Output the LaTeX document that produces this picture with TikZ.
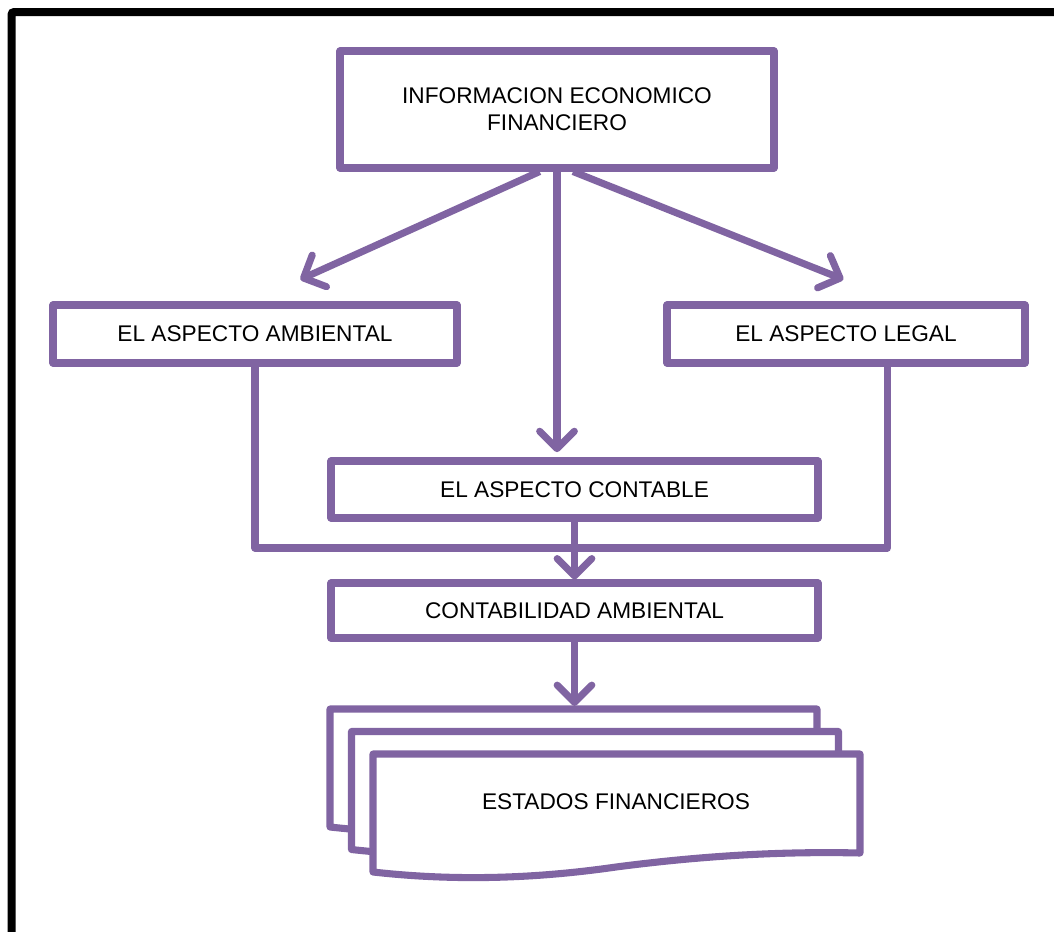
\documentclass[tikz,border=0pt]{standalone}
\usepackage{fontspec}
\setmainfont{Liberation Sans}
\usetikzlibrary{arrows.meta}
\definecolor{lila}{RGB}{128,100,162}
\tikzset{
  caja/.style={draw=lila, line width=5.3pt, fill=white, line join=round, align=center, font=\fontsize{17}{20.5}\selectfont},
  linea/.style={draw=lila, line width=5.3pt, line join=round},
  flecha/.style={linea, -{Straight Barb[length=13pt,width=26pt,line cap=round,line join=round]}},
  hoja/.style={draw=lila, line width=5.3pt, fill=white, line join=round}
}

\begin{document}
\begin{tikzpicture}[x=0.75pt,y=-0.75pt]
\useasboundingbox (0,0) rectangle (1054,932);
\clip (0,0) rectangle (1054,932);
\draw[line width=6pt, rounded corners=2pt] (11.5,12) rectangle (1080,960);

\node[caja, minimum width=325.5pt, minimum height=87.75pt] (info) at (557,109.5) {INFORMACION ECONOMICO\\FINANCIERO};
\node[caja, minimum width=303pt, minimum height=43.5pt] (amb) at (255,334) {EL ASPECTO AMBIENTAL};
\node[caja, minimum width=268.5pt, minimum height=43.5pt] (legal) at (846,334) {EL ASPECTO LEGAL};
\node[caja, minimum width=365.25pt, minimum height=42.75pt] (conta) at (574.5,489.5) {EL ASPECTO CONTABLE};
\node[caja, minimum width=365.25pt, minimum height=41.25pt] (cab) at (574.5,610.5) {CONTABILIDAD AMBIENTAL};

\foreach \d in {0,1,2}
  \draw[hoja, shift={(21.5*\d,22.5*\d)}] (330,709) -- (817,709) -- (817,808)
    .. controls (730,806) and (650,812) .. (573,822)
    .. controls (490,834) and (410,836) .. (330,827) -- cycle;
\node[font=\fontsize{17}{20.5}\selectfont] (estados) at (616,802) {ESTADOS FINANCIEROS};
\coordinate (pila) at (574.5,706);
\coordinate (junta) at (574.5,548);

\draw[flecha] ([xshift=-13pt]info.south) -- ([xshift=34pt,yshift=16.5pt]amb.north);
\draw[flecha] ([xshift=12pt]info.south) -- ([xshift=-2pt,yshift=16.5pt]legal.north);
\draw[flecha, shorten >=4pt] (info.south) -- (info.south |- conta.north);
\draw[linea] (amb.south) |- (junta) -| ([xshift=31pt]legal.south);
\draw[flecha] (conta.south) -- (cab.north);
\draw[flecha] (cab.south) -- (pila);
\end{tikzpicture}
\end{document}
